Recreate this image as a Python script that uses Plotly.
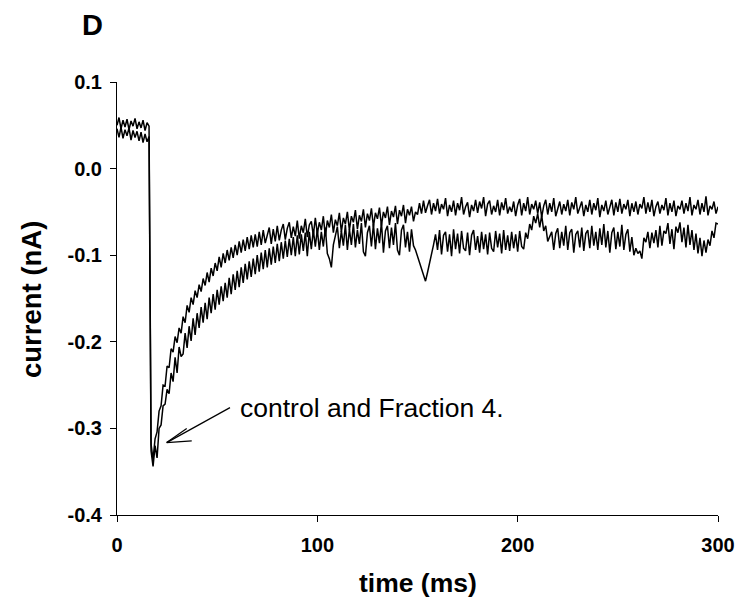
import numpy as np
import plotly.graph_objects as go

# time base (ms), one sample per ms
time_ms = list(range(0, 301))

# upper trace (faster recovery), nA
trace_fast = [
    0.050, 0.059, 0.046, 0.056, 0.048, 0.057, 0.045, 0.055, 0.049, 0.058,
    0.046, 0.054, 0.047, 0.056, 0.044, 0.053, 0.049, -0.318, -0.336, -0.312,
    -0.304, -0.280, -0.274, -0.250, -0.251, -0.228, -0.230, -0.208, -0.212, -0.194,
    -0.201, -0.184, -0.190, -0.171, -0.178, -0.158, -0.166, -0.149, -0.157, -0.141,
    -0.149, -0.134, -0.142, -0.127, -0.135, -0.120, -0.131, -0.115, -0.124, -0.109,
    -0.118, -0.102, -0.114, -0.098, -0.109, -0.094, -0.106, -0.091, -0.103, -0.088,
    -0.100, -0.084, -0.097, -0.082, -0.095, -0.079, -0.093, -0.077, -0.091, -0.076,
    -0.090, -0.073, -0.088, -0.071, -0.086, -0.075, -0.068, -0.087, -0.070, -0.084,
    -0.066, -0.083, -0.071, -0.064, -0.082, -0.069, -0.062, -0.080, -0.067, -0.078,
    -0.060, -0.081, -0.066, -0.074, -0.058, -0.079, -0.065, -0.061, -0.077, -0.057,
    -0.075, -0.062, -0.071, -0.055, -0.078, -0.060, -0.068, -0.053, -0.074, -0.059,
    -0.066, -0.051, -0.073, -0.057, -0.064, -0.050, -0.071, -0.055, -0.062, -0.048,
    -0.070, -0.054, -0.061, -0.047, -0.068, -0.052, -0.060, -0.046, -0.067, -0.051,
    -0.058, -0.045, -0.066, -0.050, -0.057, -0.044, -0.065, -0.049, -0.056, -0.043,
    -0.064, -0.048, -0.055, -0.042, -0.063, -0.047, -0.054, -0.044, -0.061, -0.050,
    -0.053, -0.040, -0.052, -0.037, -0.051, -0.043, -0.036, -0.053, -0.040, -0.049,
    -0.035, -0.052, -0.041, -0.047, -0.034, -0.055, -0.042, -0.050, -0.037, -0.054,
    -0.040, -0.048, -0.033, -0.053, -0.044, -0.039, -0.056, -0.042, -0.049, -0.036,
    -0.051, -0.038, -0.046, -0.033, -0.055, -0.041, -0.037, -0.053, -0.043, -0.050,
    -0.036, -0.054, -0.039, -0.048, -0.034, -0.052, -0.044, -0.050, -0.038, -0.055,
    -0.042, -0.035, -0.054, -0.040, -0.049, -0.033, -0.053, -0.041, -0.047, -0.037,
    -0.052, -0.039, -0.056, -0.043, -0.036, -0.053, -0.040, -0.050, -0.034, -0.055,
    -0.045, -0.038, -0.053, -0.041, -0.049, -0.036, -0.054, -0.039, -0.047, -0.033,
    -0.052, -0.044, -0.038, -0.055, -0.042, -0.050, -0.036, -0.053, -0.040, -0.048,
    -0.034, -0.056, -0.042, -0.049, -0.037, -0.053, -0.045, -0.036, -0.054, -0.039,
    -0.050, -0.035, -0.052, -0.041, -0.047, -0.036, -0.055, -0.040, -0.050, -0.038,
    -0.053, -0.041, -0.046, -0.033, -0.052, -0.039, -0.050, -0.036, -0.055, -0.044,
    -0.038, -0.052, -0.042, -0.048, -0.034, -0.054, -0.040, -0.050, -0.037, -0.055,
    -0.043, -0.047, -0.037, -0.052, -0.040, -0.049, -0.033, -0.054, -0.042, -0.047,
    -0.036, -0.053, -0.040, -0.050, -0.032, -0.054, -0.043, -0.047, -0.038, -0.052,
    -0.044,
]

# lower trace (slower recovery), nA
trace_slow = [
    0.046, 0.036, 0.048, 0.035, 0.045, 0.038, 0.047, 0.033, 0.044, 0.036,
    0.043, 0.032, 0.042, 0.030, 0.040, 0.031, 0.037, -0.326, -0.344, -0.320,
    -0.334, -0.300, -0.296, -0.274, -0.272, -0.255, -0.260, -0.236, -0.246, -0.218,
    -0.236, -0.206, -0.217, -0.214, -0.190, -0.207, -0.182, -0.199, -0.173, -0.192,
    -0.167, -0.184, -0.160, -0.178, -0.155, -0.174, -0.149, -0.167, -0.145, -0.163,
    -0.140, -0.157, -0.136, -0.153, -0.132, -0.149, -0.126, -0.145, -0.122, -0.140,
    -0.118, -0.137, -0.114, -0.132, -0.110, -0.128, -0.107, -0.125, -0.104, -0.122,
    -0.100, -0.119, -0.097, -0.116, -0.094, -0.114, -0.092, -0.111, -0.090, -0.109,
    -0.087, -0.107, -0.085, -0.104, -0.083, -0.102, -0.081, -0.100, -0.079, -0.101,
    -0.077, -0.099, -0.076, -0.095, -0.074, -0.101, -0.073, -0.093, -0.071, -0.090,
    -0.070, -0.094, -0.073, -0.090, -0.068, -0.098, -0.104, -0.114, -0.088, -0.076,
    -0.067, -0.092, -0.072, -0.089, -0.065, -0.094, -0.070, -0.088, -0.064, -0.091,
    -0.071, -0.087, -0.063, -0.096, -0.101, -0.074, -0.066, -0.090, -0.064, -0.093,
    -0.069, -0.086, -0.062, -0.097, -0.072, -0.066, -0.092, -0.068, -0.088, -0.063,
    -0.094, -0.100, -0.071, -0.065, -0.091, -0.073, -0.096, -0.070, -0.089, -0.094,
    -0.101, -0.108, -0.117, -0.124, -0.130, -0.120, -0.110, -0.098, -0.088, -0.076,
    -0.094, -0.071, -0.099, -0.077, -0.073, -0.096, -0.076, -0.101, -0.070, -0.093,
    -0.075, -0.098, -0.072, -0.092, -0.095, -0.074, -0.100, -0.077, -0.071, -0.094,
    -0.078, -0.097, -0.073, -0.093, -0.076, -0.099, -0.074, -0.092, -0.096, -0.072,
    -0.091, -0.075, -0.098, -0.071, -0.094, -0.077, -0.095, -0.073, -0.092, -0.076,
    -0.096, -0.072, -0.090, -0.093, -0.074, -0.081, -0.064, -0.071, -0.055, -0.063,
    -0.052, -0.068, -0.054, -0.072, -0.066, -0.084, -0.078, -0.073, -0.094, -0.075,
    -0.069, -0.092, -0.073, -0.089, -0.066, -0.094, -0.074, -0.070, -0.097, -0.076,
    -0.072, -0.091, -0.068, -0.095, -0.075, -0.071, -0.092, -0.066, -0.089, -0.073,
    -0.094, -0.069, -0.088, -0.064, -0.091, -0.072, -0.097, -0.074, -0.068, -0.093,
    -0.073, -0.090, -0.065, -0.094, -0.076, -0.070, -0.096, -0.079, -0.100, -0.092,
    -0.098, -0.095, -0.104, -0.080, -0.085, -0.073, -0.092, -0.074, -0.086, -0.071,
    -0.091, -0.066, -0.089, -0.072, -0.075, -0.063, -0.087, -0.070, -0.093, -0.067,
    -0.074, -0.062, -0.085, -0.068, -0.091, -0.065, -0.088, -0.071, -0.094, -0.075,
    -0.098, -0.080, -0.101, -0.083, -0.097, -0.082, -0.089, -0.072, -0.080, -0.063,
    -0.064,
]

x_tick_vals = [0, 100, 200, 300]
x_tick_text = ["0", "100", "200", "300"]
y_tick_vals = [-0.4, -0.3, -0.2, -0.1, 0.0, 0.1]
y_tick_text = ["-0.4", "-0.3", "-0.2", "-0.1", "0.0", "0.1"]

panel_label = "D"
x_title = "time (ms)"
y_title = "current (nA)"
note_text = "control and Fraction 4."
# annotation geometry in data units
note_pos = (60.3, -0.276)
arrow_tail = (56.4, -0.276)
arrow_tip = (24.8, -0.3164)
arrow_barbs = [(34.8, -0.300), (37.3, -0.3145)]

FONT = "Liberation Sans, Arial, sans-serif"

fig = go.Figure()
for ys in (trace_slow, trace_fast):
    fig.add_trace(go.Scatter(
        x=time_ms, y=ys, mode="lines",
        line=dict(color="black", width=1.5),
        showlegend=False, hoverinfo="skip",
    ))

# arrow: shaft and open head
shapes = [dict(type="line", xref="x", yref="y",
               x0=arrow_tail[0], y0=arrow_tail[1], x1=arrow_tip[0], y1=arrow_tip[1],
               line=dict(color="black", width=1.2))]
for bx, by in arrow_barbs:
    shapes.append(dict(type="line", xref="x", yref="y",
                       x0=arrow_tip[0], y0=arrow_tip[1], x1=bx, y1=by,
                       line=dict(color="black", width=1.2)))

annotations = [
    dict(x=note_pos[0], y=note_pos[1], xref="x", yref="y", text=note_text,
         showarrow=False, xanchor="left", yanchor="middle",
         font=dict(family=FONT, size=26.5, color="black")),
    dict(x=(92 - 117) / 601, y=(515 - 25) / 433, xref="paper", yref="paper",
         text="<b>" + panel_label + "</b>", showarrow=False,
         xanchor="center", yanchor="middle",
         font=dict(family=FONT, size=29, color="black")),
    dict(x=(418 - 117) / 601, y=(515 - 583) / 433, xref="paper", yref="paper",
         text="<b>" + x_title + "</b>", showarrow=False,
         xanchor="center", yanchor="middle",
         font=dict(family=FONT, size=26.5, color="black")),
    dict(x=(31 - 117) / 601, y=(515 - 300) / 433, xref="paper", yref="paper",
         text="<b>" + y_title + "</b>", showarrow=False, textangle=-90,
         xanchor="center", yanchor="middle",
         font=dict(family=FONT, size=27.5, color="black")),
]

fig.update_layout(
    width=736, height=609,
    margin=dict(l=117, r=18, t=82, b=94, autoexpand=False),
    paper_bgcolor="white", plot_bgcolor="white",
    shapes=shapes, annotations=annotations,
    xaxis=dict(range=[0, 300], tickvals=x_tick_vals, ticktext=x_tick_text,
               showgrid=False, zeroline=False, showline=True, linecolor="black",
               linewidth=1, ticks="outside", ticklen=6, tickcolor="black",
               tickwidth=1, ticklabelstandoff=6, automargin=False,
               tickfont=dict(family=FONT, size=20, color="black", weight="bold")),
    yaxis=dict(range=[-0.4, 0.1], tickvals=y_tick_vals, ticktext=y_tick_text,
               showgrid=False, zeroline=False, showline=True, linecolor="black",
               linewidth=1, ticks="outside", ticklen=6, tickcolor="black",
               tickwidth=1, ticklabelstandoff=4, automargin=False,
               tickfont=dict(family=FONT, size=20, color="black", weight="bold")),
)

fig.write_html("out.html",
               config={"displayModeBar": False},
               post_script="document.body.style.margin='0px';document.body.style.overflow='hidden';")
